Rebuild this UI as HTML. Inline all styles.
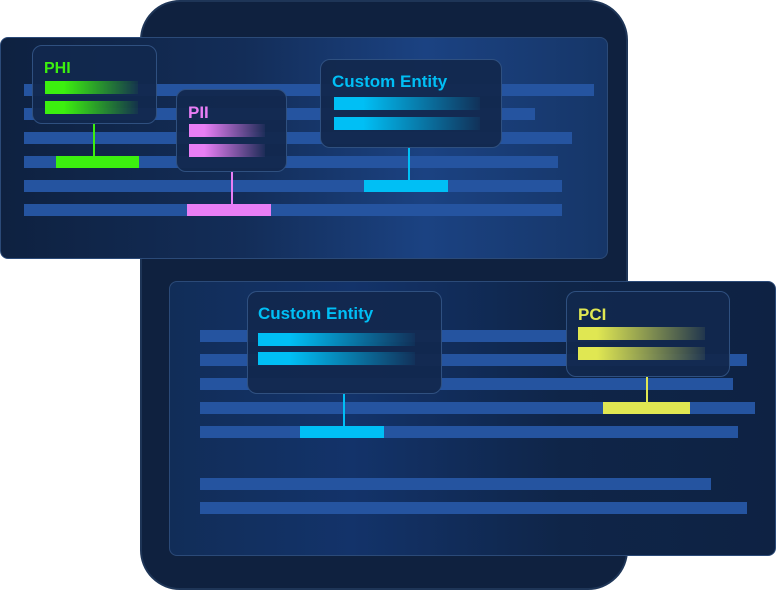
<!DOCTYPE html>
<html><head><meta charset="utf-8"><style>
*{margin:0;padding:0;box-sizing:border-box}
body{width:777px;height:590px;background:#fff;position:relative;overflow:hidden;font-family:"Liberation Sans",sans-serif}
div{position:absolute}
.back{left:140px;top:0;width:488px;height:590px;border-radius:40px;background:#0f213f;border:2px solid #1e3557}
.panel{border-radius:8px;border:1.5px solid #2b4a78;overflow:hidden}
.p1{left:0;top:37px;width:608px;height:222px;background:linear-gradient(90deg,#0e2140 0%,#132d58 40%,#1b4282 70%,#163668 100%)}
.p2{left:169px;top:281px;width:607px;height:275px;background:linear-gradient(90deg,#112d58 0%,#13336a 30%,#0f2548 65%,#0e2243 100%)}
.bar{height:12px;background:#2554a0}
.box{border-radius:10px;border:1.5px solid #2f5080;background:rgba(18,40,78,0.95)}
.lbl{font-weight:bold;font-size:16px;white-space:nowrap}
.hb{height:13px}
</style></head><body>
<div class="back"></div>
<div class="p1 panel"></div>
<div class="bar" style="left:24px;top:84px;width:570px"></div>
<div class="bar" style="left:24px;top:108px;width:511px"></div>
<div class="bar" style="left:24px;top:132px;width:548px"></div>
<div class="bar" style="left:24px;top:156px;width:534px"></div>
<div class="bar" style="left:24px;top:180px;width:538px"></div>
<div class="bar" style="left:24px;top:204px;width:538px"></div>
<div style="left:56px;top:156px;width:83px;height:12px;background:#3cf00f"></div>
<div style="left:187px;top:204px;width:84px;height:12px;background:#e87ef5"></div>
<div style="left:364px;top:180px;width:84px;height:12px;background:#00bff5"></div>
<div style="left:93px;top:124px;width:2px;height:32px;background:#3cf00f"></div>
<div style="left:231px;top:172px;width:2px;height:32px;background:#e87ef5"></div>
<div style="left:408px;top:148px;width:2px;height:32px;background:#00bff5"></div>
<div class="box" style="left:32px;top:45px;width:125px;height:79px"></div>
<div class="lbl" style="left:44px;top:60px;color:#3cf00f">PHI</div>
<div class="hb" style="left:45px;top:81px;width:93px;background:linear-gradient(90deg,#3cf00f 20%,rgba(60,240,15,0.05))"></div>
<div class="hb" style="left:45px;top:101px;width:93px;background:linear-gradient(90deg,#3cf00f 20%,rgba(60,240,15,0.05))"></div>
<div class="box" style="left:176px;top:89px;width:111px;height:83px"></div>
<div class="lbl" style="left:188px;top:103px;color:#e87ef5;font-size:17px">PII</div>
<div class="hb" style="left:189px;top:124px;width:76px;background:linear-gradient(90deg,#e87ef5 20%,rgba(232,126,245,0.05))"></div>
<div class="hb" style="left:189px;top:144px;width:76px;background:linear-gradient(90deg,#e87ef5 20%,rgba(232,126,245,0.05))"></div>
<div class="box" style="left:320px;top:59px;width:182px;height:89px"></div>
<div class="lbl" style="left:332px;top:72px;color:#00bff5;font-size:17px">Custom Entity</div>
<div class="hb" style="left:334px;top:97px;width:146px;background:linear-gradient(90deg,#00bff5 20%,rgba(0,191,245,0.05))"></div>
<div class="hb" style="left:334px;top:117px;width:146px;background:linear-gradient(90deg,#00bff5 20%,rgba(0,191,245,0.05))"></div>
<div class="p2 panel"></div>
<div class="bar" style="left:200px;top:330px;width:420px"></div>
<div class="bar" style="left:200px;top:354px;width:547px"></div>
<div class="bar" style="left:200px;top:378px;width:533px"></div>
<div class="bar" style="left:200px;top:402px;width:555px"></div>
<div class="bar" style="left:200px;top:426px;width:538px"></div>
<div class="bar" style="left:200px;top:478px;width:511px"></div>
<div class="bar" style="left:200px;top:502px;width:547px"></div>
<div style="left:300px;top:426px;width:84px;height:12px;background:#00bff5"></div>
<div style="left:603px;top:402px;width:87px;height:12px;background:#e0e752"></div>
<div style="left:343px;top:394px;width:2px;height:32px;background:#00bff5"></div>
<div style="left:646px;top:377px;width:2px;height:25px;background:#e0e752"></div>
<div class="box" style="left:247px;top:291px;width:195px;height:103px"></div>
<div class="lbl" style="left:258px;top:304px;color:#00bff5;font-size:17px">Custom Entity</div>
<div class="hb" style="left:258px;top:333px;width:157px;background:linear-gradient(90deg,#00bff5 20%,rgba(0,191,245,0.05))"></div>
<div class="hb" style="left:258px;top:352px;width:157px;background:linear-gradient(90deg,#00bff5 20%,rgba(0,191,245,0.05))"></div>
<div class="box" style="left:566px;top:291px;width:164px;height:86px"></div>
<div class="lbl" style="left:578px;top:305px;color:#e0e752;font-size:17px">PCI</div>
<div class="hb" style="left:578px;top:327px;width:127px;background:linear-gradient(90deg,#e0e752 15%,rgba(224,231,82,0.08))"></div>
<div class="hb" style="left:578px;top:347px;width:127px;background:linear-gradient(90deg,#e0e752 15%,rgba(224,231,82,0.08))"></div>
</body></html>
